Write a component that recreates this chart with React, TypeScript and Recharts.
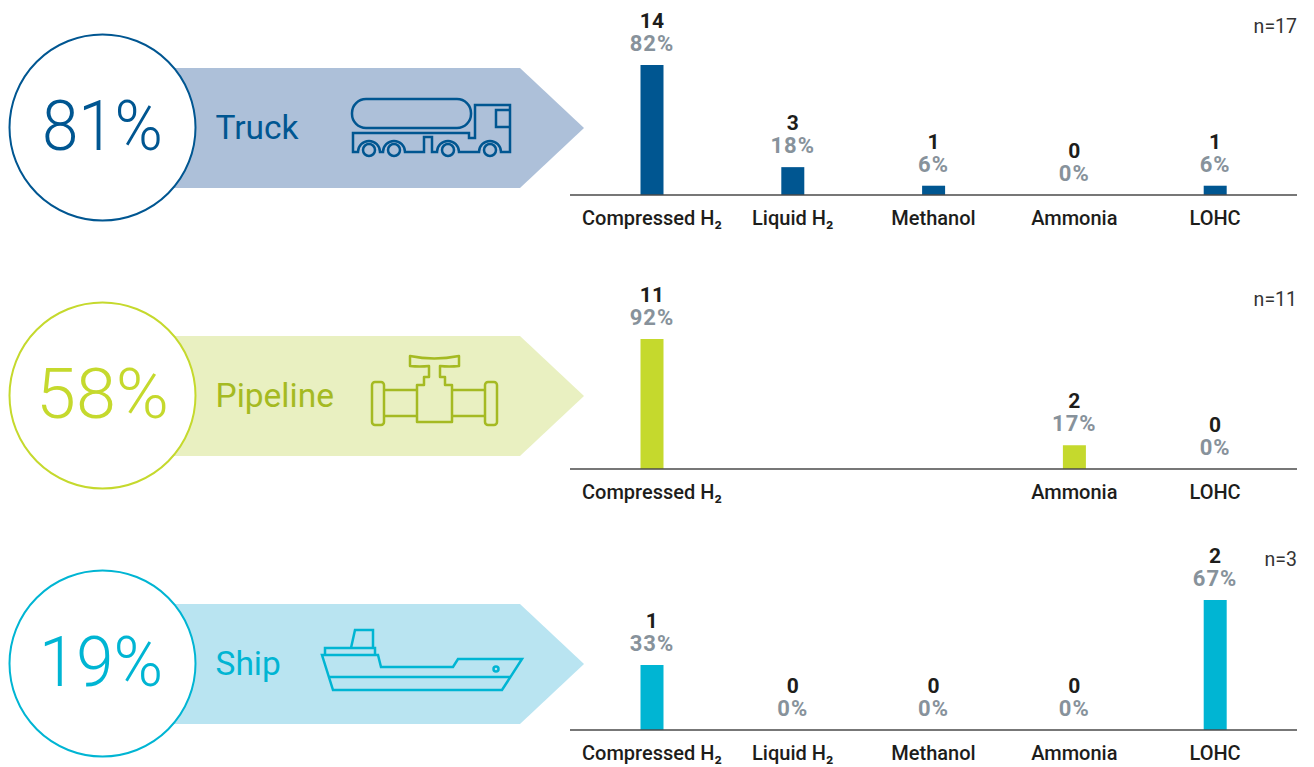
import React from 'react'
import { ComposedChart, Bar, Line, XAxis, YAxis, LabelList } from 'recharts'

const categories = ['Compressed H₂', 'Liquid H₂', 'Methanol', 'Ammonia', 'LOHC']

const truckCounts = [14, 3, 1, 0, 1]
const truckShares = [82, 18, 6, 0, 6]
const pipelineCounts = [11, null, null, 2, 0]
const pipelineShares = [92, null, null, 17, 0]
const shipCounts = [1, 0, 0, 0, 2]
const shipShares = [33, 0, 0, 0, 67]

const FONT = 'Roboto, sans-serif'
const AXIS_COLOR = '#4a4a4a'
const TEXT_DARK = '#1d1d1b'
const TEXT_GREY = '#87929b'

type Row = { name: string; count: number | null; share: number | null }

function rows(counts: (number | null)[], shares: (number | null)[]): Row[] {
  return categories.map((name, i) => ({ name, count: counts[i], share: shares[i] }))
}

function MiniBars({ data, color, top }: { data: Row[]; color: string; top: number }) {
  const max = Math.max(...data.map(d => d.count ?? 0))

  const renderTick = (props: any) => {
    const row = data[props.index]
    if (row.count === null) return <g />
    return (
      <text x={props.x} y={props.y + 24} textAnchor="middle" fontFamily={FONT} fontSize={20} fontWeight={500} fill={TEXT_DARK}>
        {row.name}
      </text>
    )
  }

  // labels hang off an invisible line: zero-height bars get no label of their own
  const renderLabel = (props: any) => {
    const row = data[props.index]
    if (!row || row.count === null) return null
    return (
      <g fontFamily={FONT} fontWeight={700} textAnchor="middle">
        <text x={props.x} y={props.y - 37} fontSize={21} fill={TEXT_DARK}>{row.count}</text>
        <text x={props.x} y={props.y - 14} fontSize={22} letterSpacing={1} fill={TEXT_GREY}>{row.share}%</text>
      </g>
    )
  }

  return (
    <div style={{ position: 'absolute', left: 570, top }}>
      <ComposedChart width={727} height={225} data={data} margin={{ top: 60, right: 0, bottom: 0, left: 0 }}>
        <YAxis hide domain={[0, max]} />
        <XAxis
          dataKey="name"
          interval={0}
          height={35}
          padding={{ left: 11.5, right: 11.5 }}
          tickLine={false}
          tickMargin={0}
          axisLine={{ stroke: AXIS_COLOR, strokeWidth: 1.5 }}
          tick={renderTick}
        />
        <Bar dataKey="count" barSize={23} fill={color} isAnimationActive={false} />
        <Line dataKey="count" stroke="none" dot={false} activeDot={false} legendType="none" isAnimationActive={false}>
          <LabelList dataKey="count" content={renderLabel} />
        </Line>
      </ComposedChart>
    </div>
  )
}

function Badge({ cy, value, valueX, valueW, label, line, text, fill }: { cy: number; value: string; valueX: number; valueW: number; label: string; line: string; text: string; fill: string }) {
  const t = cy - 60
  return (
    <g fontFamily={FONT}>
      <path d={`M150 ${t} H520 L584 ${cy} L520 ${t + 120} H150 Z`} fill={fill} />
      <circle cx={102.5} cy={cy - 0.5} r={93} fill="#fff" stroke={line} strokeWidth={2} />
      <text x={valueX} y={cy + 22} textLength={valueW} lengthAdjust="spacingAndGlyphs" fontSize={70} fontWeight={300} fill={line}>{value}</text>
      <text x={215.5} y={cy + 11} fontSize={33.5} fontWeight={400} fill={text}>{label}</text>
    </g>
  )
}

export default function App() {
  return (
    <div style={{ position: 'absolute', left: 0, top: 0, width: 1314, height: 767, overflow: 'hidden', background: '#fff' }}>
      <svg width={1314} height={767} style={{ position: 'absolute', left: 0, top: 0 }}>
        <Badge cy={128} value="81%" valueX={42} valueW={121} label="Truck" line="#005691" text="#005691" fill="#adc0d9" />
        <Badge cy={396} value="58%" valueX={36} valueW={133} label="Pipeline" line="#c5d92d" text="#a5ba22" fill="#e9f0c1" />
        <Badge cy={664} value="19%" valueX={39} valueW={124} label="Ship" line="#00b5d3" text="#00b5d3" fill="#b9e4f1" />

        {/* truck icon */}
        <g fill="none" stroke="#005691" strokeWidth={2.5}>
          <rect x={352} y={99} width={119} height={29} rx={14} />
          <path d="M353 133 H469 V138 H475 V105 H510 V152 H501 A11 11 0 0 0 479 152 H459 A11 11 0 0 0 437 152 H432 V137 H424 V152 H405 A11 11 0 0 0 383 152 H380 A11 11 0 0 0 358 152 H353 Z" />
          <path d="M510 110 H496 V127 H510" />
          <circle cx={369} cy={150} r={6} />
          <circle cx={394} cy={150} r={6} />
          <circle cx={448} cy={150} r={6} />
          <circle cx={490} cy={150} r={6} />
        </g>

        {/* pipeline valve icon */}
        <g fill="none" stroke="#a5ba22" strokeWidth={2.5} strokeLinejoin="round">
          <path d="M410 356 Q434 361 459 356 V366 Q449 367 440 366 V377 H445 V385 H452 V422 H417 V385 H424 V377 H429 V366 Q420 367 410 366 Z" />
          <rect x={372} y={382} width={12} height={43} rx={3} />
          <rect x={485} y={382} width={12} height={43} rx={3} />
          <path d="M384 390 H417 M384 416 H417 M452 390 H485 M452 416 H485" />
        </g>

        {/* ship icon */}
        <g fill="none" stroke="#00b5d3" strokeWidth={2.5}>
          <path d="M351 648 L355 630 H373 V648" />
          <path d="M325 655 V648 H375 V655" />
          <path d="M322 655 H378 L381 667 H453 L458 659 H522 L502 690 H333 Z" />
          <path d="M329 677 H511" />
          <circle cx={496} cy={669} r={2.5} />
        </g>

        <g fontFamily={FONT} fontSize={19.5} fill="#333" textAnchor="end">
          <text x={1297} y={33}>n=17</text>
          <text x={1297} y={306}>n=11</text>
          <text x={1297} y={566}>n=3</text>
        </g>
      </svg>

      <MiniBars data={rows(truckCounts, truckShares)} color="#005691" top={5} />
      <MiniBars data={rows(pipelineCounts, pipelineShares)} color="#c5d92d" top={279} />
      <MiniBars data={rows(shipCounts, shipShares)} color="#00b5d3" top={540} />
    </div>
  )
}
